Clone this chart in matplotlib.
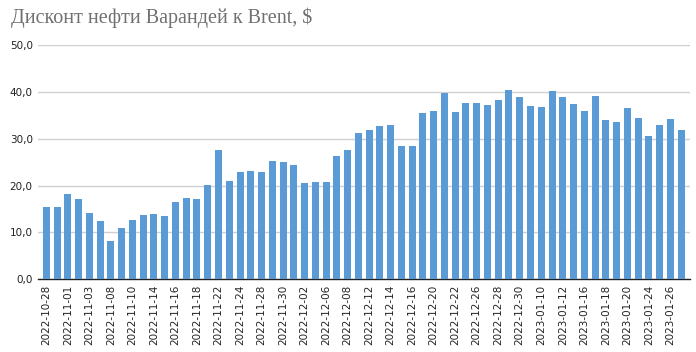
import os
import matplotlib
matplotlib.use("Agg")
import matplotlib.pyplot as plt
from matplotlib import font_manager

# trading days shown on the chart
dates = [
    "2022-10-28", "2022-10-31", "2022-11-01", "2022-11-02", "2022-11-03",
    "2022-11-07", "2022-11-08", "2022-11-09", "2022-11-10", "2022-11-11",
    "2022-11-14", "2022-11-15", "2022-11-16", "2022-11-17", "2022-11-18",
    "2022-11-21", "2022-11-22", "2022-11-23", "2022-11-24", "2022-11-25",
    "2022-11-28", "2022-11-29", "2022-11-30", "2022-12-01", "2022-12-02",
    "2022-12-05", "2022-12-06", "2022-12-07", "2022-12-08", "2022-12-09",
    "2022-12-12", "2022-12-13", "2022-12-14", "2022-12-15", "2022-12-16",
    "2022-12-19", "2022-12-20", "2022-12-21", "2022-12-22", "2022-12-23",
    "2022-12-26", "2022-12-27", "2022-12-28", "2022-12-29", "2022-12-30",
    "2023-01-09", "2023-01-10", "2023-01-11", "2023-01-12", "2023-01-13",
    "2023-01-16", "2023-01-17", "2023-01-18", "2023-01-19", "2023-01-20",
    "2023-01-23", "2023-01-24", "2023-01-25", "2023-01-26", "2023-01-27",
]

# discount, USD per barrel
discount = [
    15.5, 15.5, 18.2, 17.2, 14.2, 12.5, 8.2, 11.0, 12.7, 13.8,
    14.0, 13.4, 16.4, 17.4, 17.2, 20.2, 27.5, 20.9, 22.8, 23.0,
    22.8, 25.3, 25.1, 24.3, 20.6, 20.8, 20.8, 26.4, 27.5, 31.3,
    31.8, 32.8, 33.0, 28.5, 28.5, 35.4, 36.0, 39.7, 35.8, 37.7,
    37.6, 37.2, 38.2, 40.5, 39.0, 37.0, 36.8, 40.1, 38.8, 37.4,
    36.0, 39.2, 34.0, 33.5, 36.5, 34.5, 30.5, 33.0, 34.3, 31.8,
]

yticks = [0, 10, 20, 30, 40, 50]

# upright Liberation Serif, picked by file name
title_font = font_manager.FontProperties(family="DejaVu Serif", size=13)
for f in font_manager.fontManager.ttflist:
    if os.path.basename(f.fname).lower().startswith("liberationserif-regular"):
        title_font = font_manager.FontProperties(fname=f.fname, size=14.5)
        break

fig = plt.figure(figsize=(6.96, 3.52), dpi=100)
ax = fig.add_axes([0.055, 0.207, 0.936, 0.665])

x = list(range(len(dates)))
ax.bar(x, discount, width=0.65, color="#5b9bd5", zorder=3)

ax.set_ylim(0, 50)
ax.set_xlim(-0.75, len(dates) - 0.2)
ax.set_yticks(yticks)
ax.set_yticklabels([f"{v:.1f}".replace(".", ",") for v in yticks])
ax.set_xticks(x[::2])
ax.set_xticklabels(dates[::2], rotation=90)

ax.yaxis.grid(True, color="#d0d0d0", linewidth=1, zorder=0)
ax.tick_params(axis="both", length=0, labelsize=7.5, colors="#222222")
ax.tick_params(axis="y", pad=4)
ax.tick_params(axis="x", pad=4)
for side in ["top", "right", "left"]:
    ax.spines[side].set_visible(False)
ax.spines["bottom"].set_color("#222222")
ax.spines["bottom"].set_linewidth(1)

fig.text(0.016, 0.95, "Дисконт нефти Варандей к Brent, $", fontproperties=title_font,
         color="#707070", va="center", ha="left")

fig.savefig("out.png", dpi=100)
